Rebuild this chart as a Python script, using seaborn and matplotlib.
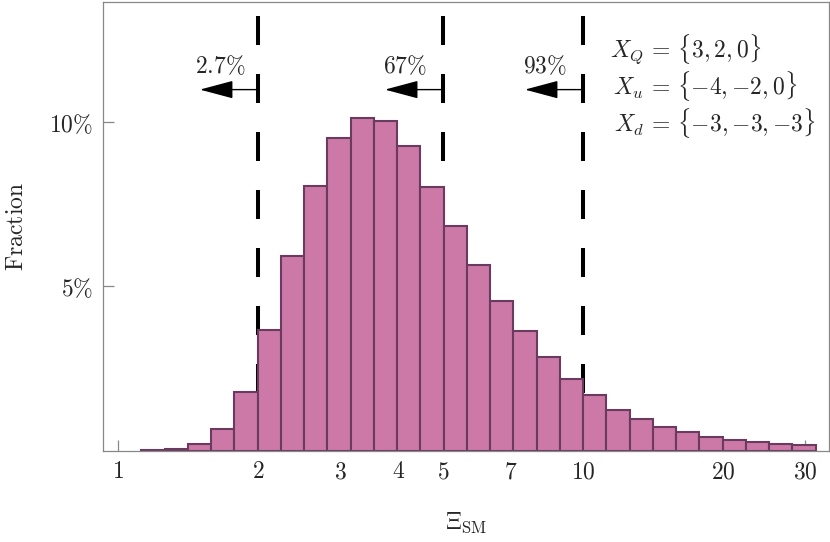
import numpy as np
import matplotlib
matplotlib.use("Agg")
import matplotlib.pyplot as plt
import seaborn as sns
from matplotlib.ticker import NullLocator

# histogram bins, in log10(Xi_SM)
bin_lo, bin_hi, n_bins = 0.05, 1.50, 29
# fraction of points in each bin
fraction = [0.0001, 0.0005, 0.0019, 0.0066, 0.0179, 0.0367, 0.0593, 0.0806,
            0.0952, 0.1012, 0.1004, 0.0928, 0.0804, 0.0685, 0.0566, 0.0457,
            0.0364, 0.0286, 0.0218, 0.0169, 0.0123, 0.0095, 0.0072, 0.0055,
            0.0041, 0.0033, 0.0026, 0.0020, 0.0017]

cuts = [2, 5, 10]
cut_labels = ["2.7", "67", "93"]

xticks = [1, 2, 3, 4, 5, 7, 10, 20, 30]
yticks = [0.05, 0.10]
ytick_labels = ["5", "10"]

charges = [r"X_Q\,=\,\{3,2,0\}",
           r"X_u\,=\,\{{-}4,{-}2,0\}",
           r"X_d\,=\,\{{-}3,{-}3,{-}3\}"]

bin_w = (bin_hi - bin_lo) / n_bins
centers = 10 ** (bin_lo + bin_w * (np.arange(n_bins) + 0.5))

sns.set_style("white")
plt.rcParams["mathtext.fontset"] = "cm"
plt.rcParams["font.family"] = ["DejaVu Serif"]

fig = plt.figure(figsize=(8.3, 5.42), dpi=100)
ax = fig.add_axes([0.1241, 0.1688, 0.8747, 0.8275])

sns.histplot(x=centers, weights=fraction, bins=n_bins, binrange=(bin_lo, bin_hi),
             log_scale=True, stat="count", color="#CC79A7", alpha=1,
             edgecolor="#6B3A5F", linewidth=1.5, ax=ax, zorder=2)

for x, lab in zip(cuts, cut_labels):
    ax.axvline(x, color="black", lw=2.9, ls=(0, (7.2, 7.2)), zorder=1)
    ax.annotate("", xy=(x / 1.334, 0.110), xytext=(x, 0.110),
                arrowprops=dict(arrowstyle="-|>,head_length=1.05,head_width=0.28",
                                color="black", lw=1, shrinkA=0, shrinkB=0,
                                mutation_scale=20))
    ax.text(x / 1.207, 0.1151, r"$%s\%%$" % lab, ha="center", va="baseline",
            fontsize=17)

for eq, xx, yy in zip(charges, [0.698, 0.7025, 0.704], [0.875, 0.7926, 0.710]):
    ax.text(xx, yy, "$%s$" % eq, transform=ax.transAxes, ha="left",
            va="baseline", fontsize=17)

ax.set_xlim(0.928, 33.8)
ax.set_ylim(0, 0.1367)
ax.set_xticks(xticks, labels=["$%d$" % t for t in xticks])
ax.xaxis.set_minor_locator(NullLocator())
ax.set_yticks(yticks, labels=[r"$%s\%%$" % t for t in ytick_labels])
ax.tick_params(direction="in", length=8, width=0.9, color="#888888",
               labelsize=17, pad=7, bottom=True, left=True)
for s in ax.spines.values():
    s.set_color("#888888")
    s.set_linewidth(0.9)

ax.set_xlabel(r"$\Xi_{\mathrm{SM}}$", fontsize=17, labelpad=20)
ax.set_ylabel(r"$\mathrm{Fraction}$", fontsize=17, labelpad=15)

fig.savefig("out.png", dpi=100)
